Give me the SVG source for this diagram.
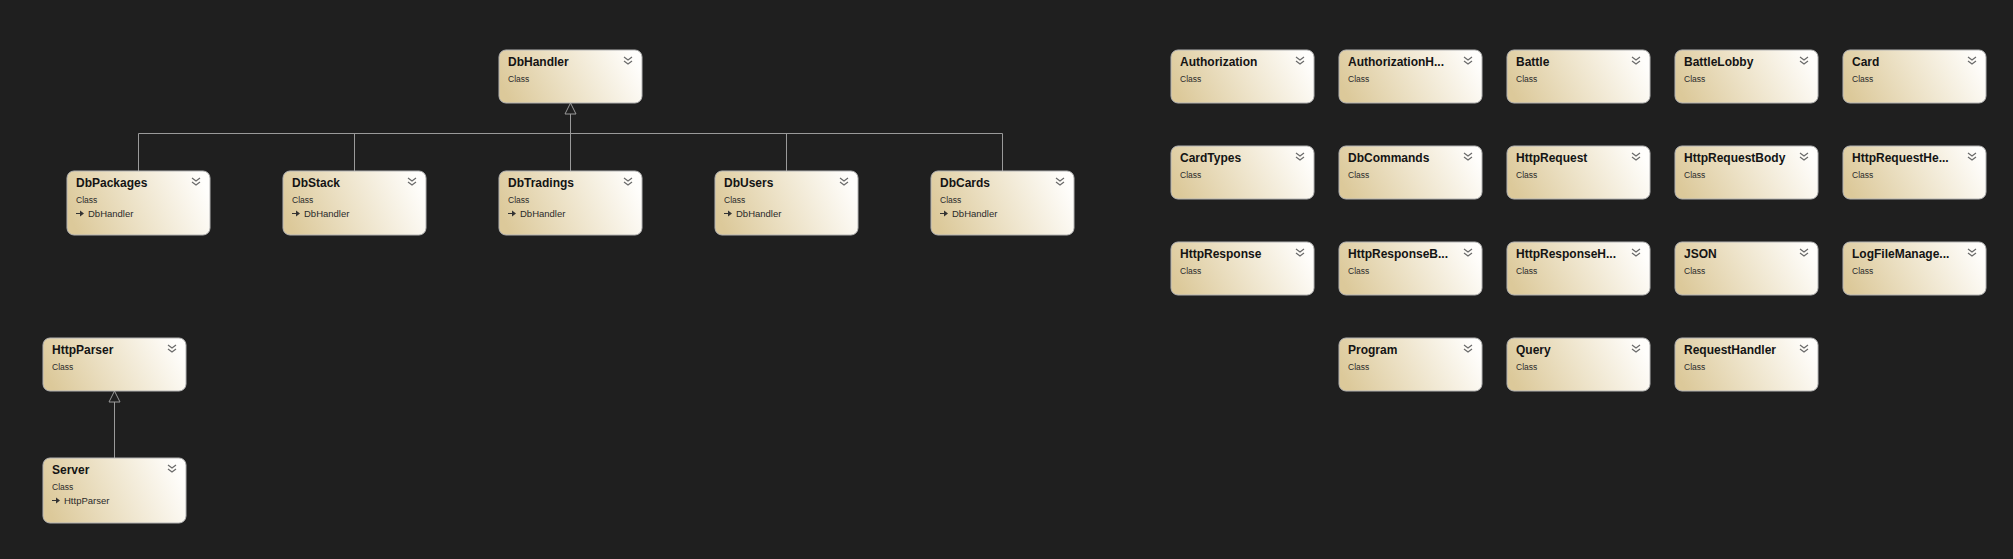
<svg xmlns="http://www.w3.org/2000/svg" width="2013" height="559" viewBox="0 0 2013 559">
<style>
.bx{fill:url(#g);stroke:#b4b4b4;stroke-width:1}
.t{font-family:"Liberation Sans",Arial,sans-serif;font-weight:bold;font-size:12px;fill:#141414}
.c{font-family:"Liberation Sans",Arial,sans-serif;font-size:8.5px;fill:#2a2a2a}
.b{font-family:"Liberation Sans",Arial,sans-serif;font-size:9.5px;fill:#2a2a2a}
.ch{fill:none;stroke:#6a6a6a;stroke-width:1.2}
.cn{fill:none;stroke:#9a9a9a;stroke-width:1}
.tri{fill:#1f1f1f;stroke:#9a9a9a;stroke-width:1}
.ic{fill:none;stroke:#333;stroke-width:1}
</style>
<defs>
<linearGradient id="g" x1="0" y1="0.6" x2="1" y2="0.4">
<stop offset="0" stop-color="#dcc99a"/>
<stop offset="0.5" stop-color="#eee4cb"/>
<stop offset="1" stop-color="#fffefc"/>
</linearGradient>
<g id="chev"><path class="ch" d="M0,0 L4,3 L8,0 M0,4 L4,7 L8,4"/></g>
<g id="inh"><path class="ic" d="M0,0 H5"/><path d="M4,-3 L8,0 L4,3 Z" fill="#333"/></g>
</defs>
<rect width="2013" height="559" fill="#1f1f1f"/>

<g id="connectors">
<path class="cn" d="M570.5,114 V133.5 M138.5,133.5 H1002.5 M138.5,133.5 V171 M354.5,133.5 V171 M570.5,133.5 V171 M786.5,133.5 V171 M1002.5,133.5 V171"/>
<path class="tri" d="M570.5,103 L576,114 L565,114 Z"/>
<path class="cn" d="M114.5,402 V458"/>
<path class="tri" d="M114.5,391 L120,402 L109,402 Z"/>
</g>

<g id="DbHandler" transform="translate(499,50)"><rect class="bx" x="0" y="0" width="143" height="53" rx="7"/><text class="t" x="9" y="16">DbHandler</text><text class="c" x="9" y="31.5">Class</text><use href="#chev" x="125" y="7"/></g>

<g id="DbPackages" transform="translate(67,171)"><rect class="bx" x="0" y="0" width="143" height="64" rx="7"/><text class="t" x="9" y="16">DbPackages</text><text class="c" x="9" y="31.5">Class</text><use href="#inh" x="9" y="42.5"/><text class="b" x="21" y="46">DbHandler</text><use href="#chev" x="125" y="7"/></g>
<g id="DbStack" transform="translate(283,171)"><rect class="bx" x="0" y="0" width="143" height="64" rx="7"/><text class="t" x="9" y="16">DbStack</text><text class="c" x="9" y="31.5">Class</text><use href="#inh" x="9" y="42.5"/><text class="b" x="21" y="46">DbHandler</text><use href="#chev" x="125" y="7"/></g>
<g id="DbTradings" transform="translate(499,171)"><rect class="bx" x="0" y="0" width="143" height="64" rx="7"/><text class="t" x="9" y="16">DbTradings</text><text class="c" x="9" y="31.5">Class</text><use href="#inh" x="9" y="42.5"/><text class="b" x="21" y="46">DbHandler</text><use href="#chev" x="125" y="7"/></g>
<g id="DbUsers" transform="translate(715,171)"><rect class="bx" x="0" y="0" width="143" height="64" rx="7"/><text class="t" x="9" y="16">DbUsers</text><text class="c" x="9" y="31.5">Class</text><use href="#inh" x="9" y="42.5"/><text class="b" x="21" y="46">DbHandler</text><use href="#chev" x="125" y="7"/></g>
<g id="DbCards" transform="translate(931,171)"><rect class="bx" x="0" y="0" width="143" height="64" rx="7"/><text class="t" x="9" y="16">DbCards</text><text class="c" x="9" y="31.5">Class</text><use href="#inh" x="9" y="42.5"/><text class="b" x="21" y="46">DbHandler</text><use href="#chev" x="125" y="7"/></g>

<g id="HttpParser" transform="translate(43,338)"><rect class="bx" x="0" y="0" width="143" height="53" rx="7"/><text class="t" x="9" y="16">HttpParser</text><text class="c" x="9" y="31.5">Class</text><use href="#chev" x="125" y="7"/></g>
<g id="Server" transform="translate(43,458)"><rect class="bx" x="0" y="0" width="143" height="65" rx="7"/><text class="t" x="9" y="16">Server</text><text class="c" x="9" y="31.5">Class</text><use href="#inh" x="9" y="42.5"/><text class="b" x="21" y="46">HttpParser</text><use href="#chev" x="125" y="7"/></g>

<g id="Authorization" transform="translate(1171,50)"><rect class="bx" x="0" y="0" width="143" height="53" rx="7"/><text class="t" x="9" y="16">Authorization</text><text class="c" x="9" y="31.5">Class</text><use href="#chev" x="125" y="7"/></g>
<g id="AuthorizationHandler" transform="translate(1339,50)"><rect class="bx" x="0" y="0" width="143" height="53" rx="7"/><text class="t" x="9" y="16">AuthorizationH...</text><text class="c" x="9" y="31.5">Class</text><use href="#chev" x="125" y="7"/></g>
<g id="Battle" transform="translate(1507,50)"><rect class="bx" x="0" y="0" width="143" height="53" rx="7"/><text class="t" x="9" y="16">Battle</text><text class="c" x="9" y="31.5">Class</text><use href="#chev" x="125" y="7"/></g>
<g id="BattleLobby" transform="translate(1675,50)"><rect class="bx" x="0" y="0" width="143" height="53" rx="7"/><text class="t" x="9" y="16">BattleLobby</text><text class="c" x="9" y="31.5">Class</text><use href="#chev" x="125" y="7"/></g>
<g id="Card" transform="translate(1843,50)"><rect class="bx" x="0" y="0" width="143" height="53" rx="7"/><text class="t" x="9" y="16">Card</text><text class="c" x="9" y="31.5">Class</text><use href="#chev" x="125" y="7"/></g>

<g id="CardTypes" transform="translate(1171,146)"><rect class="bx" x="0" y="0" width="143" height="53" rx="7"/><text class="t" x="9" y="16">CardTypes</text><text class="c" x="9" y="31.5">Class</text><use href="#chev" x="125" y="7"/></g>
<g id="DbCommands" transform="translate(1339,146)"><rect class="bx" x="0" y="0" width="143" height="53" rx="7"/><text class="t" x="9" y="16">DbCommands</text><text class="c" x="9" y="31.5">Class</text><use href="#chev" x="125" y="7"/></g>
<g id="HttpRequest" transform="translate(1507,146)"><rect class="bx" x="0" y="0" width="143" height="53" rx="7"/><text class="t" x="9" y="16">HttpRequest</text><text class="c" x="9" y="31.5">Class</text><use href="#chev" x="125" y="7"/></g>
<g id="HttpRequestBody" transform="translate(1675,146)"><rect class="bx" x="0" y="0" width="143" height="53" rx="7"/><text class="t" x="9" y="16">HttpRequestBody</text><text class="c" x="9" y="31.5">Class</text><use href="#chev" x="125" y="7"/></g>
<g id="HttpRequestHeader" transform="translate(1843,146)"><rect class="bx" x="0" y="0" width="143" height="53" rx="7"/><text class="t" x="9" y="16">HttpRequestHe...</text><text class="c" x="9" y="31.5">Class</text><use href="#chev" x="125" y="7"/></g>

<g id="HttpResponse" transform="translate(1171,242)"><rect class="bx" x="0" y="0" width="143" height="53" rx="7"/><text class="t" x="9" y="16">HttpResponse</text><text class="c" x="9" y="31.5">Class</text><use href="#chev" x="125" y="7"/></g>
<g id="HttpResponseBody" transform="translate(1339,242)"><rect class="bx" x="0" y="0" width="143" height="53" rx="7"/><text class="t" x="9" y="16">HttpResponseB...</text><text class="c" x="9" y="31.5">Class</text><use href="#chev" x="125" y="7"/></g>
<g id="HttpResponseHeader" transform="translate(1507,242)"><rect class="bx" x="0" y="0" width="143" height="53" rx="7"/><text class="t" x="9" y="16">HttpResponseH...</text><text class="c" x="9" y="31.5">Class</text><use href="#chev" x="125" y="7"/></g>
<g id="JSON" transform="translate(1675,242)"><rect class="bx" x="0" y="0" width="143" height="53" rx="7"/><text class="t" x="9" y="16">JSON</text><text class="c" x="9" y="31.5">Class</text><use href="#chev" x="125" y="7"/></g>
<g id="LogFileManager" transform="translate(1843,242)"><rect class="bx" x="0" y="0" width="143" height="53" rx="7"/><text class="t" x="9" y="16">LogFileManage...</text><text class="c" x="9" y="31.5">Class</text><use href="#chev" x="125" y="7"/></g>

<g id="Program" transform="translate(1339,338)"><rect class="bx" x="0" y="0" width="143" height="53" rx="7"/><text class="t" x="9" y="16">Program</text><text class="c" x="9" y="31.5">Class</text><use href="#chev" x="125" y="7"/></g>
<g id="Query" transform="translate(1507,338)"><rect class="bx" x="0" y="0" width="143" height="53" rx="7"/><text class="t" x="9" y="16">Query</text><text class="c" x="9" y="31.5">Class</text><use href="#chev" x="125" y="7"/></g>
<g id="RequestHandler" transform="translate(1675,338)"><rect class="bx" x="0" y="0" width="143" height="53" rx="7"/><text class="t" x="9" y="16">RequestHandler</text><text class="c" x="9" y="31.5">Class</text><use href="#chev" x="125" y="7"/></g>
</svg>
